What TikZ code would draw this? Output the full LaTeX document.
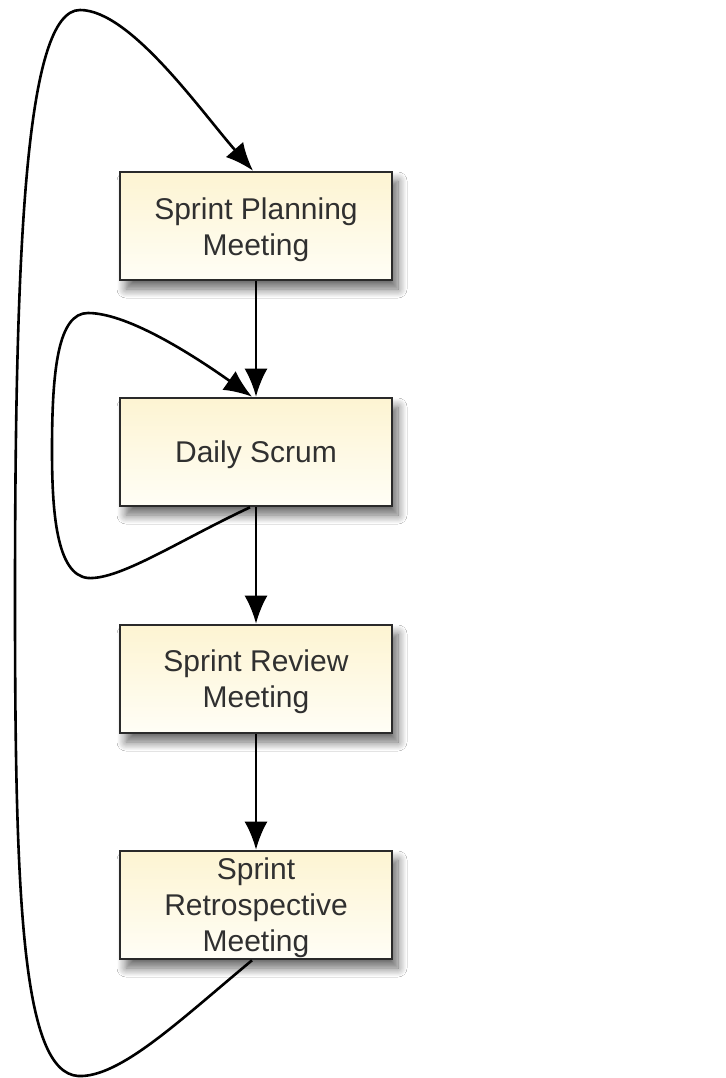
\documentclass[tikz,border=0pt]{standalone}
\usepackage{fontspec}
\setmainfont{Liberation Sans}
\usetikzlibrary{arrows.meta,shadows.blur}
\definecolor{boxtop}{HTML}{FDF4D2}
\definecolor{boxbot}{HTML}{FFFEF6}
\definecolor{boxline}{HTML}{2A2A2A}
\definecolor{txt}{HTML}{303030}
\tikzset{
  meet/.style={draw=boxline, line width=2.6pt, minimum width=272pt, minimum height=108pt,
    inner sep=0pt, shading angle=135, top color=boxtop, bottom color=boxbot,
    blur shadow={shadow xshift=6pt, shadow yshift=-9pt, shadow blur steps=12, shadow blur radius=9pt, shadow opacity=60}},
  lbl/.style={align=center, font=\fontsize{30}{36}\selectfont, text=txt, inner sep=0pt},
  conn/.style={line width=2.6pt, black, -{Latex[length=28pt,width=23pt]}},
}
\begin{document}
\begin{tikzpicture}[x=1pt,y=-1pt]
\useasboundingbox (0,0) rectangle (725,1078);
\fill[white] (0,0) rectangle (725,1078);
\node[meet] (n1) at (256,226) {};
\node[meet] (n2) at (256,452) {};
\node[meet] (n3) at (256,679) {};
\node[meet] (n4) at (256,905) {};
\node[lbl] (t1) at (256,230) {Sprint Planning\\Meeting};
\node[lbl] (t2) at (256,455) {Daily Scrum};
\node[lbl] (t3) at (256,682) {Sprint Review\\Meeting};
\node[lbl] (t4) at (256,908) {Sprint\\Retrospective\\Meeting};
\draw[conn] (n1.south) -- (n2.north);
\draw[conn] (n2.south) -- (n3.north);
\draw[conn] (n3.south) -- (n4.north);
\coordinate (a1) at (88,578);
\coordinate (a2) at (52,450);
\coordinate (a3) at (88,313);
\draw[conn] ([xshift=-6pt]n2.south) .. controls (180,540) and (120,580) .. (a1)
  .. controls (56,575) and (52,510) .. (a2)
  .. controls (52,370) and (58,313) .. (a3)
  .. controls (130,313) and (200,360) .. ([xshift=-4pt]n2.north);
\coordinate (b1) at (78,1076);
\coordinate (b2) at (15,600);
\coordinate (b3) at (80,10);
\draw[conn] ([xshift=-4pt]n4.south) .. controls (180,1020) and (120,1078) .. (b1)
  .. controls (22,1072) and (15,900) .. (b2)
  .. controls (15,250) and (25,10) .. (b3)
  .. controls (130,10) and (200,110) .. ([xshift=-3pt]n1.north);
\end{tikzpicture}
\end{document}
